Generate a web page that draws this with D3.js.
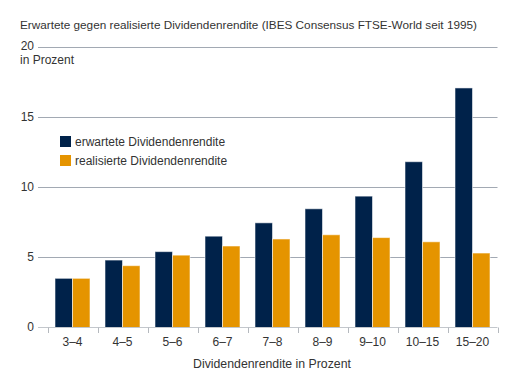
<!DOCTYPE html>
<html>
<head>
<meta charset="utf-8">
<script src="https://cdn.jsdelivr.net/npm/d3@7"></script>
<style>
    body { margin: 0; background: #fff; }
    svg { font-family: "Liberation Sans", Arial, sans-serif; }
</style>
</head>
<body>
<svg id="chart" width="517" height="384"></svg>
<script>
const categories = ['3–4', '4–5', '5–6', '6–7', '7–8', '8–9', '9–10', '10–15', '15–20'];
const seriesNames = ['erwartete Dividendenrendite', 'realisierte Dividendenrendite'];
const expected = [3.5, 4.8, 5.4, 6.5, 7.45, 8.45, 9.35, 11.8, 17.05];
const realised = [3.5, 4.4, 5.15, 5.8, 6.3, 6.6, 6.4, 6.1, 5.3];
const yTicks = [0, 5, 10, 15, 20];

const colors = ['#00224a', '#e59400'],
    textColor = '#333';

const svg = d3.select('#chart');

const x0 = d3.scaleBand()
    .domain(categories)
    .range([47.5, 497.5])
    .paddingInner(0.3)
    .paddingOuter(0.15);

const x1 = d3.scaleBand()
    .domain(seriesNames)
    .range([0, x0.bandwidth()]);

const y = d3.scaleLinear()
    .domain([0, 20])
    .range([327.5, 46.5]);

// title
svg.append('text')
    .attr('x', 20)
    .attr('y', 28.5)
    .attr('fill', textColor)
    .style('font-size', '11.75px')
    .text('Erwartete gegen realisierte Dividendenrendite (IBES Consensus FTSE-World seit 1995)');

// gridlines + labels
const grid = svg.append('g');

grid.selectAll('line')
    .data(yTicks.filter(d => d > 0))
    .join('line')
    .attr('x1', 38)
    .attr('x2', 497.5)
    .attr('y1', d => Math.round(y(d)) + 0.5)
    .attr('y2', d => Math.round(y(d)) + 0.5)
    .attr('stroke', '#a2a9b3')
    .attr('stroke-width', 1);

grid.selectAll('text')
    .data(yTicks)
    .join('text')
    .attr('x', 34)
    .attr('y', d => y(d))
    .attr('dy', '0.32em')
    .attr('text-anchor', 'end')
    .attr('fill', textColor)
    .style('font-size', '12px')
    .text(d => d);

svg.append('text')
    .attr('x', 20)
    .attr('y', 64)
    .attr('fill', textColor)
    .style('font-size', '12px')
    .text('in Prozent');

// bars
const rows = categories.map((c, i) => ({ cat: c, values: [expected[i], realised[i]] }));

svg.append('g')
    .selectAll('g')
    .data(rows)
    .join('g')
    .attr('transform', d => `translate(${x0(d.cat)},0)`)
    .selectAll('rect')
    .data(d => d.values.map((v, j) => ({ key: seriesNames[j], value: v, j })))
    .join('rect')
    .attr('x', d => x1(d.key))
    .attr('width', x1.bandwidth())
    .attr('y', d => y(d.value))
    .attr('height', d => y(0) - y(d.value))
    .attr('fill', d => colors[d.j])
    .attr('stroke', 'rgba(255,255,255,0.55)')
    .attr('stroke-width', 1);

// x axis
const axis = svg.append('g');
const step = x0.step(),
    bounds = categories.map(c => x0(c) - step * x0.paddingInner() / 2);
bounds.push(bounds[bounds.length - 1] + step);

axis.append('line')
    .attr('x1', 38)
    .attr('x2', 497.5)
    .attr('y1', 327.5)
    .attr('y2', 327.5)
    .attr('stroke', '#c3c7cc');

axis.selectAll('.tick')
    .data(bounds)
    .join('line')
    .attr('class', 'tick')
    .attr('x1', d => Math.round(d) + 0.5)
    .attr('x2', d => Math.round(d) + 0.5)
    .attr('y1', 327.5)
    .attr('y2', 333)
    .attr('stroke', '#b5b9be');

axis.selectAll('.label')
    .data(categories)
    .join('text')
    .attr('class', 'label')
    .attr('x', d => x0(d) + x0.bandwidth() / 2)
    .attr('y', 346)
    .attr('text-anchor', 'middle')
    .attr('fill', textColor)
    .style('font-size', '12px')
    .text(d => d);

svg.append('text')
    .attr('x', 272)
    .attr('y', 367.5)
    .attr('text-anchor', 'middle')
    .attr('fill', textColor)
    .style('font-size', '12.3px')
    .text('Dividendenrendite in Prozent');

// legend
const legend = svg.append('g')
    .attr('transform', 'translate(60,136)');

const items = legend.selectAll('g')
    .data(seriesNames)
    .join('g')
    .attr('transform', (d, i) => `translate(0,${i * 19})`);

items.append('rect')
    .attr('width', 11)
    .attr('height', 11)
    .attr('fill', (d, i) => colors[i]);

items.append('text')
    .attr('x', 15)
    .attr('y', 10)
    .attr('fill', textColor)
    .style('font-size', '12px')
    .text(d => d);
</script>
</body>
</html>
